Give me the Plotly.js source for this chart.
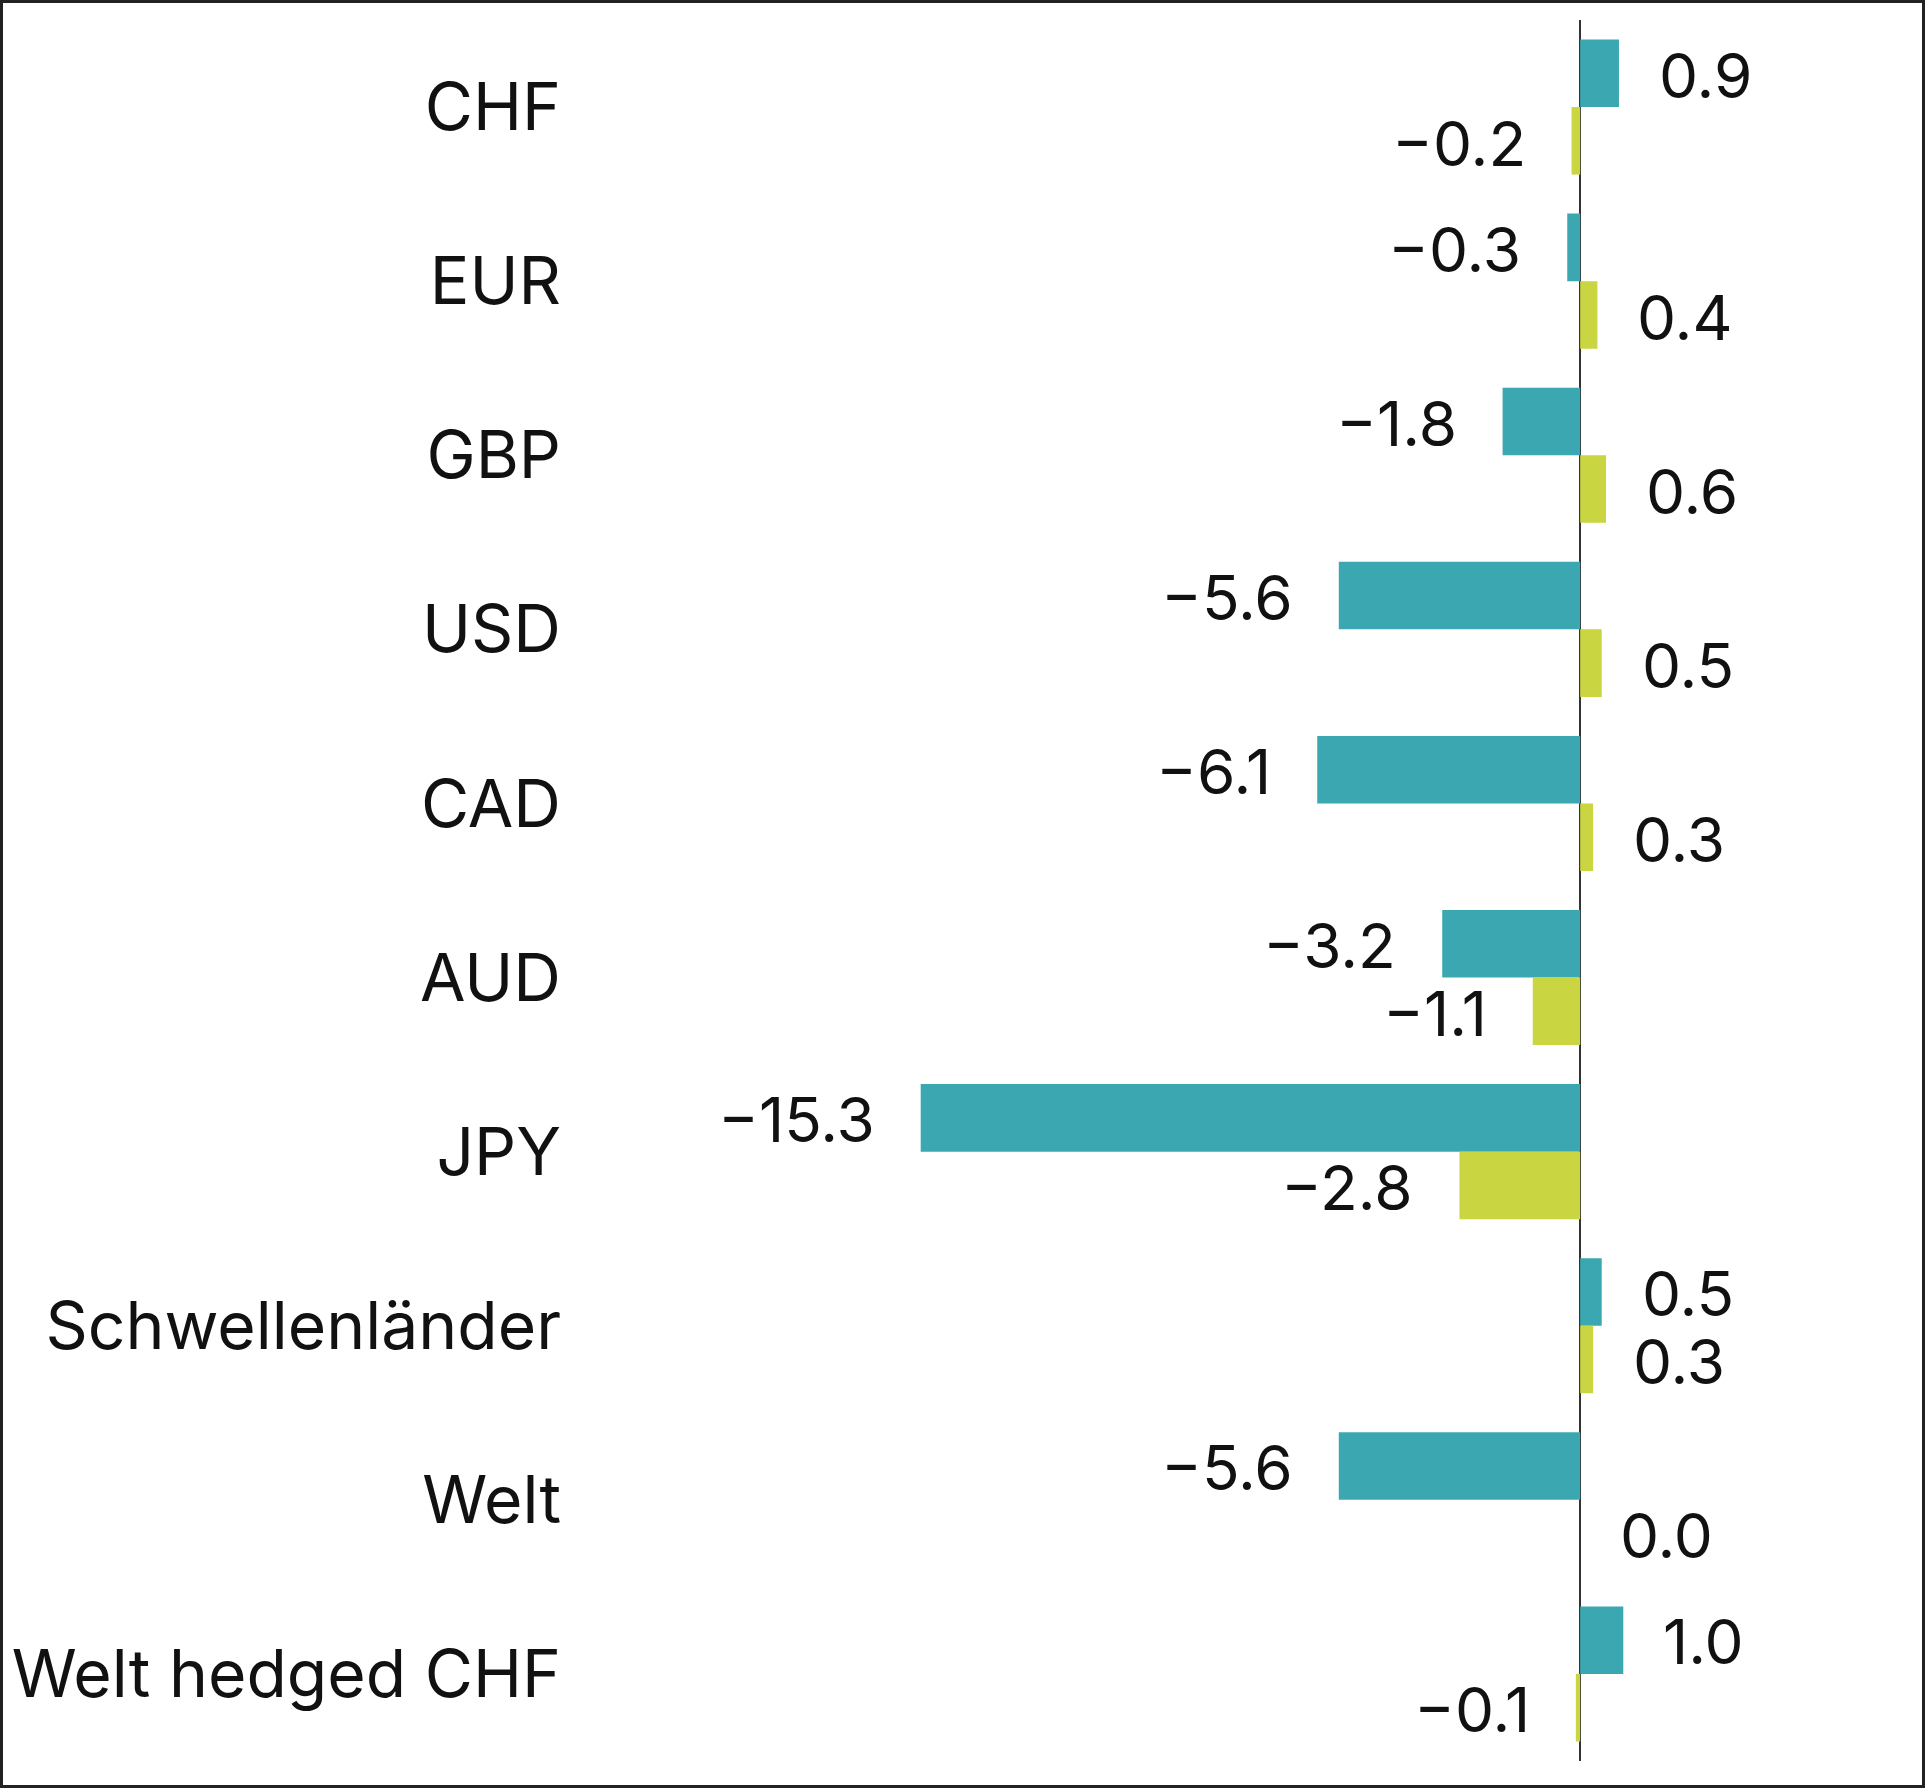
<!DOCTYPE html>
<html>
<head>
<meta charset="utf-8">
<script src="https://cdn.plot.ly/plotly-3.0.1.min.js"></script>
<style>
  body { margin: 0; background: #fff; }
  #wrap { position: relative; width: 1925px; height: 1788px; }
  #frame { position: absolute; left: 0; top: 0; width: 1925px; height: 1788px;
           box-sizing: border-box; border: 3px solid #222; pointer-events: none; }
</style>
</head>
<body>
<div id="wrap">
  <div id="chart"></div>
  <div id="frame"></div>
</div>
<script>
// currencies, top to bottom
const categories = ['CHF', 'EUR', 'GBP', 'USD', 'CAD', 'AUD', 'JPY', 'Schwellenländer', 'Welt', 'Welt hedged CHF'];
const tealValues = [0.9, -0.3, -1.8, -5.6, -6.1, -3.2, -15.3, 0.5, -5.6, 1.0];
const greenValues = [-0.2, 0.4, 0.6, 0.5, 0.3, -1.1, -2.8, 0.3, 0.0, -0.1];

const TEAL = '#3ba8b1';
const GREEN = '#c9d541';
const FONT = 'Inter, "Open Sans", sans-serif';

function fmt(v) {
    const s = Math.abs(v).toFixed(1);
    return v < 0 ? '\u2212' + s : s;
}

const tealTrace = {
    type: 'bar', orientation: 'h', name: 'Serie 1',
    y: categories, x: tealValues,
    marker: { color: TEAL }, hoverinfo: 'skip'
};
const greenTrace = {
    type: 'bar', orientation: 'h', name: 'Serie 2',
    y: categories, x: greenValues,
    marker: { color: GREEN }, hoverinfo: 'skip'
};

// value labels next to the bar ends
function labels(values, shiftY) {
    return values.map((v, i) => ({
        x: v, y: categories[i], xref: 'x', yref: 'y',
        text: fmt(v), showarrow: false,
        xanchor: v < 0 ? 'right' : 'left',
        xshift: v < 0 ? -44 : 38,
        yshift: shiftY,
        font: { family: FONT, size: 62, color: '#111' }
    }));
}

const layout = {
    width: 1925, height: 1788,
    margin: { l: 600, r: 25, t: 20, b: 27 },
    paper_bgcolor: '#fff', plot_bgcolor: '#fff',
    barmode: 'group', bargap: 0.224, bargroupgap: 0,
    showlegend: false,
    xaxis: {
        range: [-22.74, 7.42],
        showgrid: false, showticklabels: false, ticks: '',
        zeroline: true, zerolinecolor: '#333', zerolinewidth: 2,
        fixedrange: true
    },
    yaxis: {
        autorange: 'reversed', type: 'category',
        showgrid: false, zeroline: false, ticks: '',
        ticklabelstandoff: 38,
        tickfont: { family: FONT, size: 66, color: '#111' },
        fixedrange: true
    },
    annotations: labels(tealValues, 32).concat(labels(greenValues, -36))
};

Plotly.newPlot('chart', [tealTrace, greenTrace], layout, { displayModeBar: false, staticPlot: true });
</script>
</body>
</html>
